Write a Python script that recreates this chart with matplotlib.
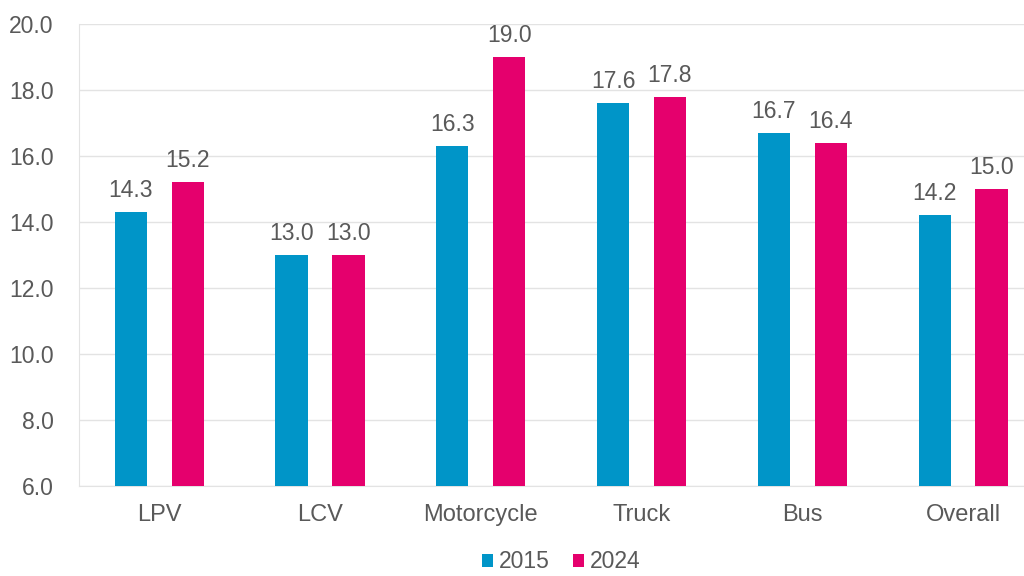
import numpy as np
import matplotlib.pyplot as plt

plt.rcParams['font.family'] = ['Liberation Sans', 'DejaVu Sans']

categories = ['LPV', 'LCV', 'Motorcycle', 'Truck', 'Bus', 'Overall']
values_2015 = [14.3, 13.0, 16.3, 17.6, 16.7, 14.2]
values_2024 = [15.2, 13.0, 19.0, 17.8, 16.4, 15.0]
yticks = [6.0, 8.0, 10.0, 12.0, 14.0, 16.0, 18.0, 20.0]

blue = '#0095c8'
pink = '#e5006d'
text_gray = '#595959'

fig = plt.figure(figsize=(10.24, 5.76), dpi=100)
# plot area runs a little past the right edge of the canvas
ax = fig.add_axes([0.077, 0.157, 0.942, 0.801])

x = np.arange(len(categories))
width = 0.2
offset = 0.177
base = yticks[0]

b1 = ax.bar(x - offset, np.array(values_2015) - base, width, bottom=base, color=blue, label='2015', zorder=3)
b2 = ax.bar(x + offset, np.array(values_2024) - base, width, bottom=base, color=pink, label='2024', zorder=3)

for bars, vals in ((b1, values_2015), (b2, values_2024)):
    for rect, v in zip(bars, vals):
        ax.text(rect.get_x() + rect.get_width() / 2, v + 0.3, f'{v:.1f}',
                ha='center', va='bottom', fontsize=16.5, color=text_gray)

ax.set_ylim(6, 20)
ax.set_xlim(-0.5, len(categories) - 0.5)
ax.set_yticks(yticks)
ax.set_yticklabels([f'{t:.1f}' for t in yticks])
ax.set_xticks(x)
ax.set_xticklabels(categories)
ax.tick_params(axis='both', length=0, labelcolor=text_gray)
ax.tick_params(axis='x', pad=13, labelsize=17)
ax.tick_params(axis='y', pad=18, labelsize=16.5)

ax.grid(axis='y', color='#e3e3e3', linewidth=1, zorder=0)
for side in ('top', 'right'):
    ax.spines[side].set_visible(False)
ax.spines['left'].set_color('#e3e3e3')
ax.spines['bottom'].set_color('#e3e3e3')

ax.legend(loc='center', bbox_to_anchor=(0.5, -0.165), ncol=2, frameon=False,
          fontsize=16.5, labelcolor=text_gray, handlelength=0.5, handleheight=0.5,
          handletextpad=0.25, columnspacing=1.0)

fig.savefig('out.png', dpi=100)
